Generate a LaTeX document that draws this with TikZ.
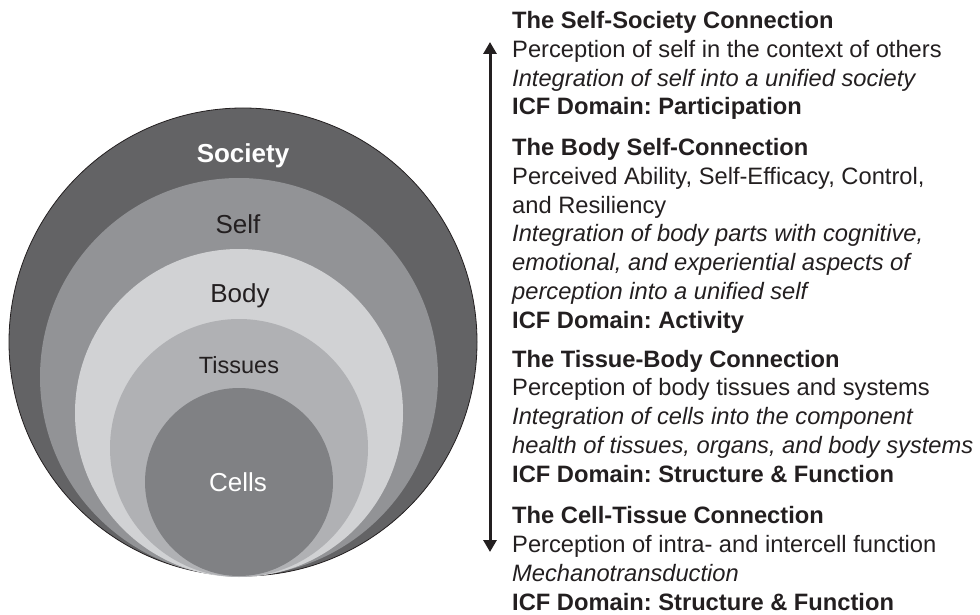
\documentclass[tikz,border=0pt]{standalone}
\usepackage{fontspec}
\setmainfont{Liberation Sans}
\frenchspacing
\usetikzlibrary{
  arrows.meta,
  positioning,
}
\definecolor{ink}{HTML}{231F20}
\definecolor{societyfill}{HTML}{636365}
\definecolor{selffill}{HTML}{929396}
\definecolor{bodyfill}{HTML}{D1D2D4}
\definecolor{tissuefill}{HTML}{B0B1B4}
\definecolor{cellfill}{HTML}{808184}
\tikzset{
  >={Triangle[length=12pt,width=13pt]},
  ringlabel/.style={anchor=base, inner sep=0pt, font=\fontsize{26}{30}\selectfont},
  blurb/.style={anchor=base west, align=left, inner sep=0pt, text=ink,
    font=\fontsize{23.7}{28.7}\selectfont},
}

\begin{document}
\begin{tikzpicture}[x=1pt, y=-1pt]
      \useasboundingbox (0, 0) rectangle (980, 615);

      % nested rings, all touching at the bottom
      \fill [societyfill, draw=ink, line width=0.8pt] (243, 342) circle [radius=234pt];
      \foreach \cy/\r/\col in {377/199/selffill, 413/164/bodyfill, 448/129/tissuefill, 482/94/cellfill}
      {
        \fill [\col] (239, \cy) circle [radius=\r pt];
      }

      \node [ringlabel, text=white] (society) at (243, 163) {\bfseries Society};
      \node [ringlabel, text=ink] (self) at (238, 233) {Self};
      \node [ringlabel, text=ink] (body) at (240, 302) {Body};
      \node [ringlabel, text=ink, font=\fontsize{23.5}{28}\selectfont] (tissues) at (239, 373) {Tissues};
      \node [ringlabel, text=white] (cells) at (238, 491) {Cells};

      \coordinate (up) at (490, 42);
      \coordinate (down) at (490, 552);
      \draw [<->, ink, line width=3pt] (up) -- (down);

      % blocks are placed by the baseline of their last line
      \node [blurb] (selfsociety) at (512, 115)
        {\textbf{The Self-Society Connection}\\
         Perception of self in the context of others\\
         \textit{Integration of self into a unified society}\\
         \textbf{ICF Domain: Participation}};
      \node [blurb] (bodyself) at (512, 328)
        {\textbf{The Body Self-Connection}\\
         Perceived Ability, Self-Efficacy, Control,\\
         and Resiliency\\
         \textit{Integration of body parts with cognitive,}\\
         \textit{emotional, and experiential aspects of}\\
         \textit{perception into a unified self}\\
         \textbf{ICF Domain: Activity}};
      \node [blurb] (tissuebody) at (512, 482)
        {\textbf{The Tissue-Body Connection}\\
         Perception of body tissues and systems\\
         \textit{Integration of cells into the component}\\
         \textit{health of tissues, organs, and body systems}\\
         \textbf{ICF Domain: Structure \& Function}};
      \node [blurb] (celltissue) at (512, 610)
        {\textbf{The Cell-Tissue Connection}\\
         Perception of intra- and intercell function\\
         \textit{Mechanotransduction}\\
         \textbf{ICF Domain: Structure \& Function}};
    \end{tikzpicture}
\end{document}
